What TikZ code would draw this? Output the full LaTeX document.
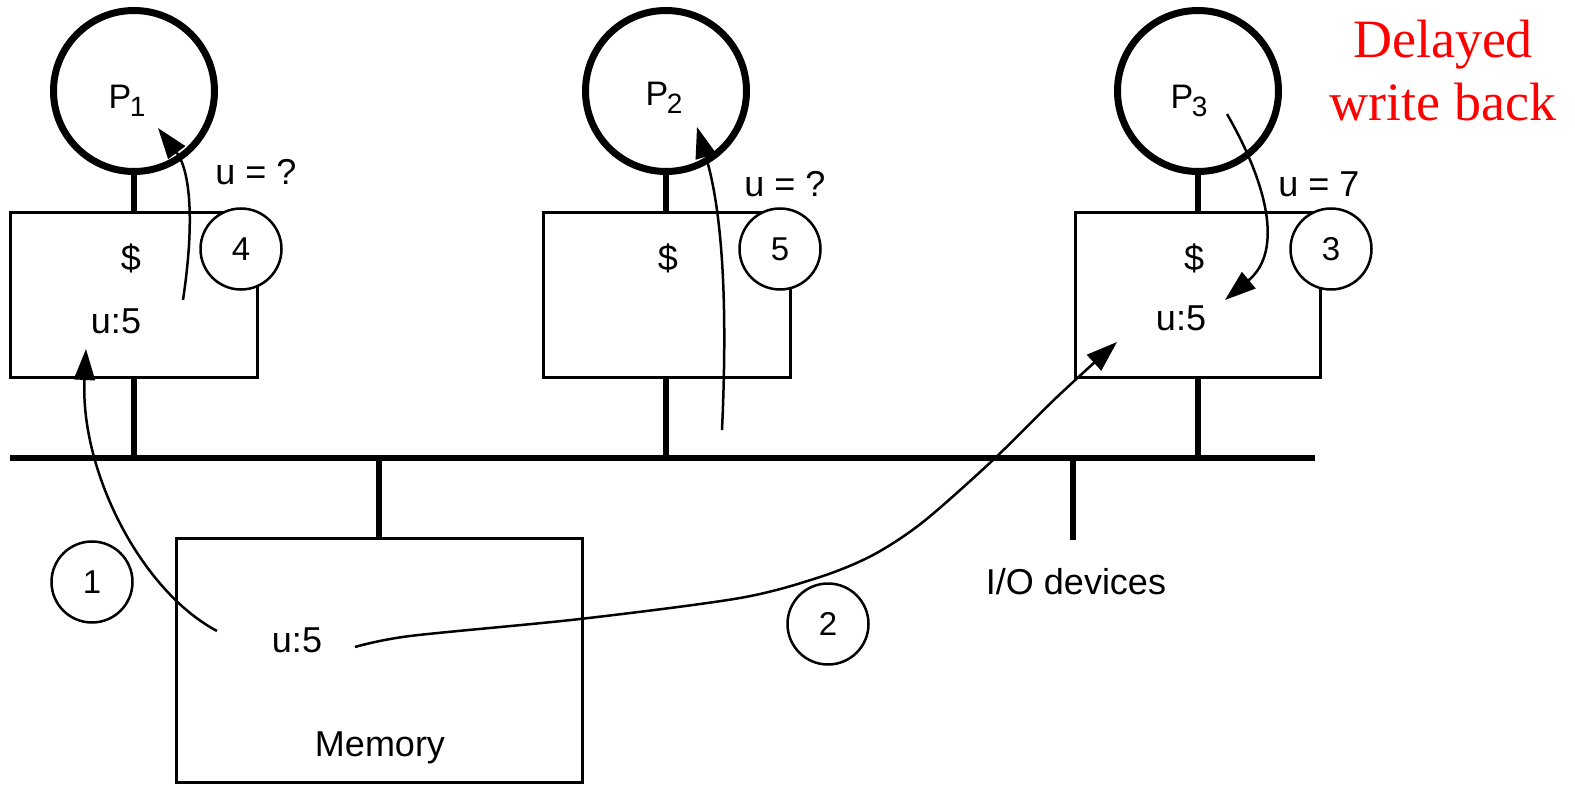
\documentclass[tikz,border=0pt]{standalone}
\usepackage{fontspec}
\setmainfont{Liberation Sans}
\newfontfamily\timesfont{Liberation Serif}
\usetikzlibrary{arrows.meta}
\newcommand{\Pn}[1]{P\kern-1.5pt\raisebox{-8pt}{\fontsize{28}{28}\selectfont #1}}
\begin{document}
\begin{tikzpicture}[x=1pt,y=-1pt,
  proc/.style={circle, draw, line width=7pt, minimum size=161pt, inner sep=0pt},
  cachebox/.style={draw, line width=3pt, minimum width=247pt, minimum height=165pt, inner sep=0pt},
  numc/.style={circle, draw, fill=white, line width=2.5pt, minimum size=81pt, inner sep=0pt, font=\fontsize{33}{38}\selectfont},
  txt/.style={inner sep=0pt, font=\fontsize{36}{42}\selectfont},
  ptxt/.style={inner sep=0pt, font=\fontsize{34}{40}\selectfont},
  stem/.style={line width=6pt},
  arr/.style={line width=2.5pt, -{Triangle[length=31pt,width=21pt]}},
  ]
\useasboundingbox (0,0) rectangle (1575,786);
% bus
\coordinate (busL) at (10,458);
\coordinate (busR) at (1315,458);
\draw[stem] (busL) -- (busR);
% processors
\node[proc] (p1) at (134,91) {};
\node[proc] (p2) at (666,91) {};
\node[proc] (p3) at (1198,91) {};
\node[ptxt] (p1l) at (127,101) {\Pn{1}};
\node[ptxt] (p2l) at (664,98) {\Pn{2}};
\node[ptxt] (p3l) at (1189,101) {\Pn{3}};
% caches
\node[cachebox] (c1) at (133.5,295.5) {};
\node[cachebox] (c2) at (666.5,295.5) {};
\node[cachebox, minimum width=245pt] (c3) at (1197.5,295.5) {};
% memory
\node[draw, line width=3pt, minimum width=406pt, minimum height=244pt, inner sep=0pt] (mem) at (379,660) {};
% stems
\draw[stem] (p1.south) -- (p1.south |- c1.north);
\draw[stem] (p2.south) -- (p2.south |- c2.north);
\draw[stem] (p3.south) -- (p3.south |- c3.north);
\draw[stem] (p1.south |- c1.south) -- (p1.south |- busL);
\draw[stem] (p2.south |- c2.south) -- (p2.south |- busL);
\draw[stem] (p3.south |- c3.south) -- (p3.south |- busL);
\draw[stem] (mem.north) -- (mem.north |- busL);
\coordinate (iotop) at (1073,458);
\coordinate (iobot) at (1073,540);
\draw[stem] (iotop) -- (iobot);
% texts
\node[txt] (d1) at (131,258) {\$};
\node[txt] (d2) at (668,258) {\$};
\node[txt] (d3) at (1194,258) {\$};
\node[txt] (u1) at (116,321) {u:5};
\node[txt] (u3) at (1181,318) {u:5};
\node[txt] (um) at (297,640) {u:5};
\node[txt] (q1) at (256,172) {u = ?};
\node[txt] (q2) at (785,184) {u = ?};
\node[txt] (q3) at (1319,184) {u = 7};
\node[txt] (memlab) at (380,748) {Memory};
\node[txt] (iolab) at (1076,582) {I/O devices};
\node[inner sep=0pt, text=red, align=center, font=\timesfont\fontsize{54}{63}\selectfont] (dwb) at (1443,71) {Delayed\\write back};
% number circles
\node[numc] (n4) at (241,249) {4};
\node[numc] (n5) at (780,249) {5};
\node[numc] (n3) at (1331,249) {3};
\node[numc] (n1) at (92,582) {1};
\node[numc] (n2) at (828,624) {2};
% arrows
\coordinate (a1s) at (217,631);
\coordinate (a1e) at (86,349);
\draw[arr] (a1s) .. controls (140,590) and (80,470) .. (a1e);
\coordinate (a2s) at (355,647);
\coordinate (a2e) at (1117,342);
\draw[arr] plot[smooth, tension=0.5] coordinates {(a2s) (410,636) (580,619) (740,598) (820,577) (873,555) (923,522) (993,460) (1057,397) (a2e)};
\coordinate (a3s) at (1227,114);
\coordinate (a3e) at (1225,300);
\draw[arr] (a3s) .. controls (1265,180) and (1285,250) .. (a3e);
\coordinate (a4s) at (183,300);
\coordinate (a4e) at (158,128);
\draw[arr] (a4s) .. controls (195,220) and (190,170) .. (a4e);
\coordinate (a5s) at (722,430);
\coordinate (a5e) at (697,127);
\draw[arr] (a5s) .. controls (728,300) and (722,210) .. (a5e);
\end{tikzpicture}
\end{document}
